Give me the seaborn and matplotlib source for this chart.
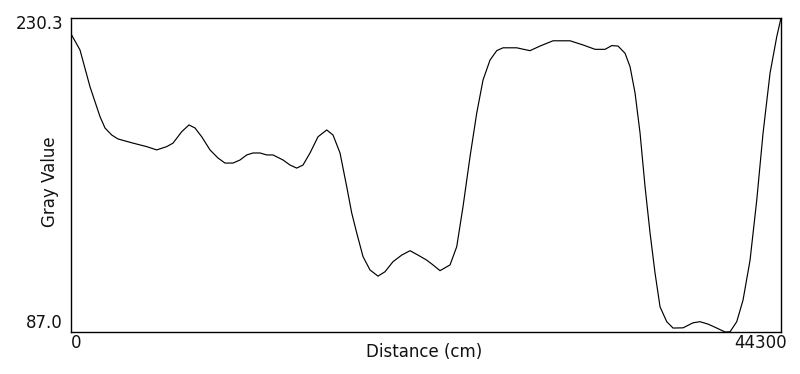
import numpy as np
import pandas as pd
import matplotlib
matplotlib.use("Agg")
import matplotlib.pyplot as plt
import seaborn as sns

distance = [0, 580, 1204, 1827, 2139, 2557, 2950, 3886, 4740, 5364, 5988, 6380,
            6923, 7378, 7753, 8171, 8688, 9187, 9624, 10123, 10560, 10977, 11370,
            11807, 12225, 12618, 13242, 13679, 14096, 14489, 14926, 15425, 15967,
            16360, 16797, 17215, 17527, 17839, 18231, 18668, 19167, 19603, 20102,
            20645, 21162, 21661, 22204, 22597, 23034, 23657, 24075, 24468, 24905,
            25323, 25716, 26152, 26570, 26963, 27817, 28441, 28647, 29271, 30082,
            31142, 31953, 32701, 33325, 33743, 34136, 34573, 34885, 35197, 35509,
            35821, 36133, 36444, 36756, 37174, 37567, 38191, 38815, 39251, 39750,
            40293, 40810, 41122, 41540, 41933, 42370, 42788, 43181, 43618, 44036,
            44300]
gray_value = [223.3, 215.7, 198.9, 185.3, 180.1, 176.9, 175.1, 173.2, 171.6, 170.1,
              171.6, 173.2, 178.4, 181.5, 180.1, 176.1, 170.1, 166.4, 164.1, 164.1,
              165.5, 167.8, 168.7, 168.7, 167.8, 167.8, 165.5, 163.2, 161.8, 163.2,
              168.7, 176.1, 179.2, 176.9, 168.7, 153.3, 141.3, 132.2, 121.4, 115.3,
              112.5, 114.5, 119.1, 122.1, 124.1, 122.1, 119.8, 117.6, 115.0, 117.6,
              125.9, 144.2, 167.0, 186.9, 202.0, 211.1, 215.4, 216.7, 216.7, 215.7,
              215.4, 217.5, 219.9, 219.9, 218.0, 216.0, 216.0, 217.7, 217.5, 214.2,
              208.1, 196.1, 177.8, 153.3, 132.2, 113.9, 98.5, 91.7, 88.8, 88.9,
              91.2, 91.7, 90.6, 88.8, 87.0, 87.1, 91.7, 101.6, 119.8, 147.2,
              177.8, 205.2, 221.8, 230.3]

x_min, x_max = 0, 44300
y_min, y_max = 87.0, 230.3
x_labels = ["0", "44300"]
y_labels = ["87.0", "230.3"]

sns.set_theme(style="white")
plt.rcParams['font.family'] = ['DejaVu Sans']

W, H = 800, 374
fig = plt.figure(figsize=(W / 100, H / 100), dpi=100)
ax = fig.add_axes([70.7 / W, (H - 332) / H, (781 - 70.7) / W, (332 - 18) / H])

df = pd.DataFrame({"Distance (cm)": distance, "Gray Value": gray_value})
sns.lineplot(data=df, x="Distance (cm)", y="Gray Value", color="black",
             linewidth=0.85, estimator=None, ax=ax)

ax.set_xlim(x_min, x_max)
ax.set_ylim(y_min, y_max)
ax.set_xticks([])
ax.set_yticks([])
ax.set_xlabel("")
ax.set_ylabel("")
for s in ax.spines.values():
    s.set_visible(True)
    s.set_color("black")
    s.set_linewidth(1.0)

fs = 12
col = "#111111"
fig.text(63 / W, 1 - 24 / H, y_labels[1], ha="right", va="center", fontsize=fs, color=col)
fig.text(63 / W, 1 - 322.5 / H, y_labels[0], ha="right", va="center", fontsize=fs, color=col)
fig.text(76.5 / W, 1 - 342.5 / H, x_labels[0], ha="center", va="center", fontsize=fs, color=col)
fig.text(787 / W, 1 - 342.5 / H, x_labels[1], ha="right", va="center", fontsize=fs, color=col)
fig.text(424 / W, 1 - 352 / H, "Distance (cm)", ha="center", va="center", fontsize=fs, color=col)
fig.text(50 / W, 1 - 182 / H, "Gray Value", ha="center", va="center", rotation=90,
         fontsize=fs, color=col)

fig.savefig("out.png", dpi=100, facecolor="white")
